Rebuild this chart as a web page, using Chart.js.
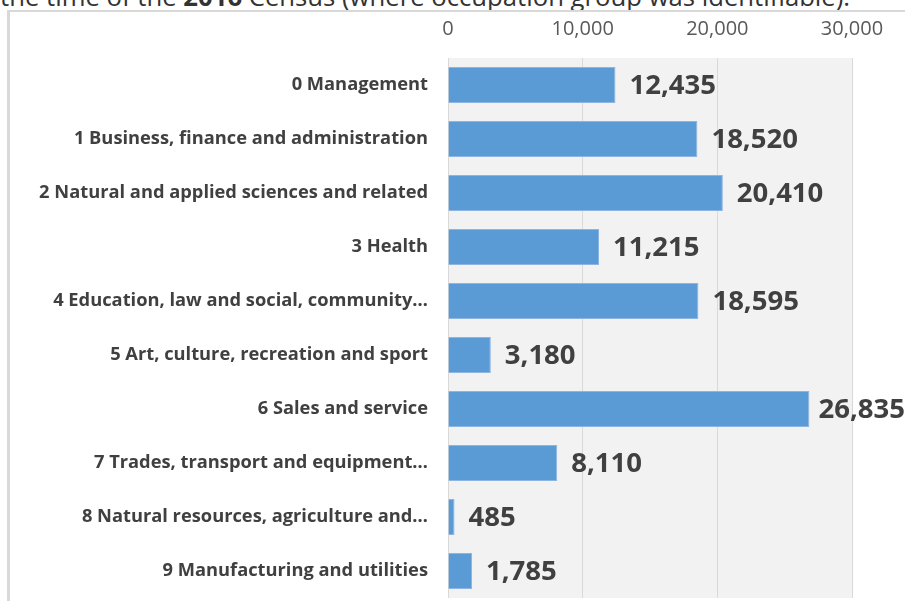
<!DOCTYPE html>
<html>
<head>
<meta charset="utf-8">
<script src="https://cdn.jsdelivr.net/npm/chart.js@4"></script>
<style>
  body { margin: 0; background: #fff; width: 905px; height: 601px; overflow: hidden; position: relative; }
  #title { position: absolute; left: 0; top: -21px; font: 25.7px "Open Sans", sans-serif; color: #333; white-space: nowrap; }
  #frame { position: absolute; left: 7px; top: 10px; width: 905px; height: 601px; border-top: 2px solid #d9d9d9; border-left: 3px solid #d9d9d9; }
  #chart { position: absolute; left: 0; top: 0; }
</style>
</head>
<body>
<div id="title">the time of the <b>2016</b> Census (where occupation group was identifiable).</div>
<div id="frame"></div>
<canvas id="chart" width="905" height="601"></canvas>
<script>
const categories = [
  '0 Management',
  '1 Business, finance and administration',
  '2 Natural and applied sciences and related',
  '3 Health',
  '4 Education, law and social, community…',
  '5 Art, culture, recreation and sport',
  '6 Sales and service',
  '7 Trades, transport and equipment…',
  '8 Natural resources, agriculture and…',
  '9 Manufacturing and utilities'
]
const counts = [12435, 18520, 20410, 11215, 18595, 3180, 26835, 8110, 485, 1785]
const tickValues = [0, 10000, 20000, 30000]

const fmt = v => v.toLocaleString('en-US')

// grey plot area like the Excel original
const plotBg = {
  id: 'plotBg',
  beforeDraw(chart) {
    const a = chart.chartArea, c = chart.ctx
    c.save()
    c.fillStyle = '#f2f2f2'
    c.fillRect(a.left, a.top, a.right - a.left, a.bottom - a.top)
    c.restore()
  }
}

// value labels right of each bar
const valueLabels = {
  id: 'valueLabels',
  afterDatasetsDraw(chart) {
    const c = chart.ctx
    const meta = chart.getDatasetMeta(0)
    c.save()
    c.font = '700 27.5px "Open Sans", sans-serif'
    c.fillStyle = '#404040'
    c.textBaseline = 'middle'
    meta.data.forEach((bar, i) => {
      const txt = fmt(counts[i])
      const w = c.measureText(txt).width
      let x = bar.x + 14
      if (x + w > chart.width) x = chart.width - w
      c.fillText(txt, x, bar.y + 1)
    })
    c.restore()
  }
}

new Chart(document.getElementById('chart'), {
  type: 'bar',
  data: {
    labels: categories,
    datasets: [{
      data: counts,
      backgroundColor: '#5b9bd5',
      borderColor: '#8db4e2',
      borderWidth: 1,
      barPercentage: 0.67,
      categoryPercentage: 1
    }]
  },
  options: {
    indexAxis: 'y',
    responsive: false,
    animation: false,
    devicePixelRatio: 1,
    layout: { padding: { left: 8, right: 53, top: 15, bottom: 3 } },
    plugins: { legend: { display: false }, tooltip: { enabled: false } },
    scales: {
      x: {
        position: 'top',
        min: 0,
        max: 30000,
        afterBuildTicks(scale) { scale.ticks = tickValues.map(v => ({ value: v })) },
        afterFit(scale) { scale.height = 43 },
        ticks: {
          color: '#595959',
          font: { family: '"Open Sans", sans-serif', size: 20 },
          padding: 17,
          callback: v => fmt(v)
        },
        grid: { color: '#d9d9d9', drawTicks: false },
        border: { display: false }
      },
      y: {
        afterFit(scale) {
          scale.width = 440
          scale.paddingTop = 0
          scale.paddingBottom = 0
        },
        ticks: {
          color: '#404040',
          font: { family: '"Open Sans", sans-serif', size: 18.3, weight: '700' },
          padding: 12
        },
        grid: { display: false },
        border: { display: false }
      }
    }
  },
  plugins: [plotBg, valueLabels]
})
</script>
</body>
</html>
